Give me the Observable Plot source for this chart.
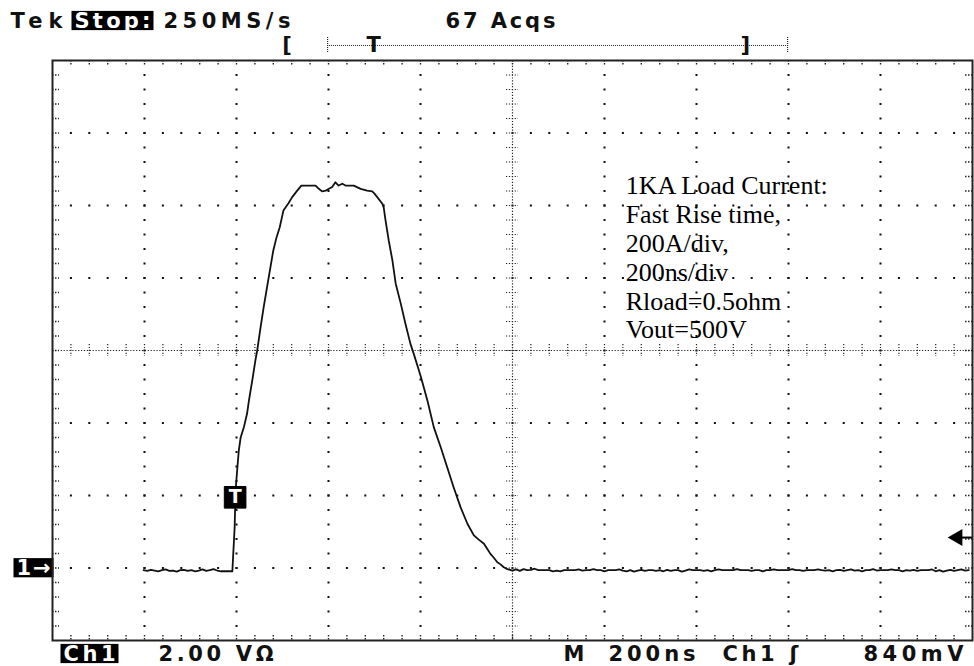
<!DOCTYPE html>
<html>
<head>
<meta charset="utf-8">
<script src="https://cdn.jsdelivr.net/npm/d3@7"></script>
<script src="https://cdn.jsdelivr.net/npm/@observablehq/plot@0.6"></script>
<style>
  html, body { margin: 0; padding: 0; background: #fff; }
  #chart { width: 974px; height: 666px; }
</style>
</head>
<body>
<div id="chart"></div>
<script>
// ---- Scope settings ----
const timePerDivNs = 200;          // 200 ns/div
const ampsPerDiv = 200;            // 200 A/div
const timeDomainNs = [0, 2000];    // 10 divisions
const currentDomainA = [-200, 1400]; // 8 divisions, ground marker at 0 A
const minorPerDiv = 5;
const centerTimeNs = 1000;
const centerCurrentA = 600;

// ---- Waveform (Ch1, load current) ----
const sampleStepNs = 8;
const preTriggerStartNs = 198;
const preTriggerA = [-6, -8, -5, -7, -9, -6, -4, -8, -7, -10, -6, -5, -8, -6, -9, -7, -4, -8, -6, -3, -7, -9, -9, -9];

const pulseTimeNs = [391, 392, 396, 398, 402, 405, 409, 416, 423, 427, 435, 441, 445, 452, 459, 470, 480, 487, 494, 502,
  513, 521, 532, 541, 554, 572, 579, 586, 594, 601, 608, 615, 622, 630, 637, 655, 670, 684, 695, 699,
  706, 717, 720, 724, 731, 739, 746, 757, 767, 778, 785, 800, 815, 829, 844, 858, 872, 887, 902, 916,
  926, 938, 946, 952, 959, 967, 974, 981, 989];
const pulseA = [-9, 16, 113, 214, 278, 324, 360, 388, 426, 462, 523, 572, 600, 661, 719, 802, 876, 912, 940, 986,
  1006, 1023, 1041, 1055, 1055, 1055, 1046, 1039, 1041, 1046, 1051, 1064, 1055, 1060, 1055, 1055, 1046, 1041, 1039, 1034,
  1023, 1005, 995, 959, 903, 848, 785, 730, 675, 619, 592, 531, 462, 388, 333, 278, 223, 168, 122, 90,
  79, 67, 51, 39, 29, 16, 10, 2, -3];

const tailStartNs = 1000;
const tailA = [
  -7, -4, -8, -3, -6, -5, -2, -6, -6, -6,
  -6, -9, -7, -9, -6, -6, -6, -6, -4, -7,
  -6, -6, -3, -6, -6, -9, -6, -6, -6, -4,
  -7, -9, -6, -10, -7, -5, -8, -6, -6, -8,
  -6, -9, -5, -8, -6, -6, -10, -7, -4, -6,
  -6, -6, -8, -6, -9, -6, -4, -6, -6, -6,
  -6, -3, -6, -6, -6, -8, -6, -6, -9, -6,
  -6, -4, -6, -6, -6, -6, -3, -6, -6, -8,
  -6, -6, -6, -4, -6, -7, -6, -9, -6, -5,
  -8, -6, -4, -7, -6, -9, -6, -6, -3, -7,
  -6, -6, -6, -4, -6, -6, -9, -6, -7, -5,
  -8, -6, -6, -6, -4, -9, -6, -10, -7, -5,
  -8, -6, -4, -7, -6];

// ---- Trigger / markers ----
const triggerTimeNs = 397;
const triggerMarkA = 195;
const triggerLevelA = 84;   // 840 mV at 2.00 V/div
const groundA = 0;

const overviewLabels = ["[", "T", "]"];
const overviewTimesNs = [510, 698, 1506];
const overviewBarNs = [598, 1598];

// ---- Text ----
const headerLabels = ["Tek", "Stop:", "250MS/s", "67 Acqs"];
const footerLabels = ["Ch1", "2.00 VΩ", "M", "200ns", "Ch1", "ʃ", "840mV"];
const groundLabel = "1→";
const triggerLabel = "T";
const noteLines = ["1KA Load Current:", "Fast Rise time,", "200A/div,", "200ns/div", "Rload=0.5ohm", "Vout=500V"];
const noteTimeNs = 1246;
const noteCurrentA = 1088;

// ---- Build tables ----
const trace = [
  ...preTriggerA.map((a, k) => ({t: preTriggerStartNs + k * sampleStepNs, a})),
  ...pulseTimeNs.map((t, k) => ({t, a: pulseA[k]})),
  ...tailA.map((a, k) => ({t: tailStartNs + k * sampleStepNs, a}))
];

const majorT = d3.range(timeDomainNs[0] + timePerDivNs, timeDomainNs[1], timePerDivNs);
const minorT = d3.range(timeDomainNs[0], timeDomainNs[1] + 1, timePerDivNs / minorPerDiv);
const majorA = d3.range(currentDomainA[0] + ampsPerDiv, currentDomainA[1], ampsPerDiv);
const minorA = d3.range(currentDomainA[0], currentDomainA[1] + 1, ampsPerDiv / minorPerDiv);
const innerMinorT = minorT.slice(1, -1);
const innerMinorA = minorA.slice(1, -1);
const gridDots = [
  ...majorT.filter(t => t !== centerTimeNs).flatMap(t => innerMinorA.map(a => ({t, a}))),
  ...majorA.filter(a => a !== centerCurrentA).flatMap(a => innerMinorT.map(t => ({t, a})))
];

const scopeFont = "DejaVu Sans";
const scopeSize = 21;
const ink = "#111";

function label(txt, frameAnchor, dx, dy, extra = {}) {
  return Plot.text([txt], {
    text: d => d, frameAnchor, dx, dy,
    textAnchor: "start", lineAnchor: "bottom",
    fontFamily: scopeFont, fontWeight: "bold", fontSize: scopeSize, fill: ink,
    ...extra
  });
}

const svg = Plot.plot({
  width: 974,
  height: 666,
  marginLeft: 52,
  marginRight: 2,
  marginTop: 60,
  marginBottom: 26,
  style: {background: "white", fontFamily: scopeFont},
  x: {domain: timeDomainNs, axis: null},
  y: {domain: currentDomainA, axis: null},
  marks: [
    // graticule dots
    Plot.dot(gridDots, {x: "t", y: "a", symbol: "square", r: 1.15, fill: "#111", stroke: null}),
    // center lines
    Plot.ruleX([centerTimeNs], {stroke: "#222", strokeWidth: 1.2, strokeDasharray: "1.2,1.7"}),
    Plot.ruleY([centerCurrentA], {stroke: "#222", strokeWidth: 1.2, strokeDasharray: "1.2,1.7"}),
    Plot.ruleY(innerMinorA, {x1: () => centerTimeNs, x2: () => centerTimeNs, insetLeft: -6, insetRight: -6, stroke: "#222", strokeWidth: 1.2, strokeDasharray: "1.2,1.7"}),
    Plot.ruleX(innerMinorT, {y1: () => centerCurrentA, y2: () => centerCurrentA, insetTop: -6, insetBottom: -6, stroke: "#222", strokeWidth: 1.2, strokeDasharray: "1.2,1.7"}),
    // border ticks
    Plot.ruleX(innerMinorT, {y1: () => currentDomainA[1], y2: () => currentDomainA[1], insetTop: 0, insetBottom: -5, stroke: "#222", strokeWidth: 1.4, strokeDasharray: "1.5,1.5"}),
    Plot.ruleX(innerMinorT, {y1: () => currentDomainA[0], y2: () => currentDomainA[0], insetTop: -5, insetBottom: 0, stroke: "#222", strokeWidth: 1.4, strokeDasharray: "1.5,1.5"}),
    Plot.ruleY(innerMinorA, {x1: () => timeDomainNs[0], x2: () => timeDomainNs[0], insetLeft: 0, insetRight: -7, stroke: "#222", strokeWidth: 1.4, strokeDasharray: "1.5,1.5"}),
    Plot.ruleY(innerMinorA, {x1: () => timeDomainNs[1], x2: () => timeDomainNs[1], insetLeft: -7, insetRight: 0, stroke: "#222", strokeWidth: 1.4, strokeDasharray: "1.5,1.5"}),
    // waveform
    Plot.line(trace, {x: "t", y: "a", stroke: ink, strokeWidth: 1.8, curve: "linear"}),
    // trigger marker on trace
    Plot.dot([{t: triggerTimeNs, a: triggerMarkA}], {x: "t", y: "a", symbol: "square", r: 12.2, fill: "black", stroke: "black", strokeWidth: 1}),
    Plot.text([{t: triggerTimeNs, a: triggerMarkA}], {x: "t", y: "a", text: () => triggerLabel, fill: "white", fontWeight: "bold", fontSize: 19, fontFamily: scopeFont, lineAnchor: "middle"}),
    // trigger level arrow on right
    Plot.ruleY([triggerLevelA], {x1: () => timeDomainNs[1], x2: () => timeDomainNs[1], insetLeft: -14, stroke: "black", strokeWidth: 2}),
    Plot.dot([triggerLevelA], {x: () => timeDomainNs[1], y: d => d, symbol: "triangle", rotate: -90, r: 6.3, fill: "black", stroke: null, dx: -15}),
    // ground marker
    Plot.text([groundLabel], {frameAnchor: "left", y: () => groundA, text: d => d, dx: -36, textAnchor: "start", lineAnchor: "middle", fill: "white", fontWeight: "bold", fontSize: scopeSize, fontFamily: scopeFont}),
    // annotation
    Plot.text([noteLines.join("\n")], {x: () => noteTimeNs, y: () => noteCurrentA, text: d => d, textAnchor: "start", lineAnchor: "top", fontFamily: "Liberation Serif", fontSize: 26, lineHeight: 1.11, fill: "black"}),
    // record overview bar above the graticule
    Plot.ruleY([currentDomainA[1]], {x1: () => overviewBarNs[0], x2: () => overviewBarNs[1], dy: -15, stroke: "#222", strokeWidth: 1, strokeDasharray: "1,1"}),
    Plot.ruleX(overviewBarNs, {y1: () => currentDomainA[1], y2: () => currentDomainA[1], insetTop: -23, insetBottom: 7, stroke: "#222", strokeWidth: 1.2, strokeDasharray: "1,1"}),
    Plot.text(overviewLabels, {x: (d, i) => overviewTimesNs[i], frameAnchor: "top", dy: -15, text: d => d, lineAnchor: "middle", fontFamily: scopeFont, fontWeight: "bold", fontSize: 21, fill: ink}),
    // header
    label(headerLabels[0], "top-left", -42, -33),
    label(headerLabels[1], "top-left", 22, -33, {fill: "white"}),
    label(headerLabels[2], "top-left", 111, -33),
    label(headerLabels[3], "top-left", 393, -33),
    // footer
    label(footerLabels[0], "bottom-left", 11, 20, {fill: "white"}),
    label(footerLabels[1], "bottom-left", 106, 20),
    label(footerLabels[2], "bottom-left", 511, 20),
    label(footerLabels[3], "bottom-left", 556, 20),
    label(footerLabels[4], "bottom-left", 670, 20),
    label(footerLabels[5], "bottom-left", 737, 20),
    label(footerLabels[6], "bottom-left", 811, 20),
    Plot.frame({stroke: "#222", strokeWidth: 2})
  ]
});

document.getElementById("chart").append(svg);

// stretch scope-font labels to the screen's wide letter pitch
const labelWidths = new Map([
  ["Tek", 52], ["Stop:", 76], ["250MS/s", 127], ["67 Acqs", 110],
  ["Ch1", 52], ["2.00 VΩ", 115], ["200ns", 87], ["840mV", 100], ["1→", 34]
]);
d3.select(svg).selectAll("text").each(function () {
  const w = labelWidths.get(this.textContent);
  if (w) { this.setAttribute("textLength", w); this.setAttribute("lengthAdjust", "spacing"); }
});

// inverse-video boxes behind white (highlighted) labels, except the trigger tag
d3.select(svg).selectAll("text").each(function () {
  const fill = getComputedStyle(this).fill;
  if (this.textContent === triggerLabel) return;
  if (!(fill === "white" || fill === "rgb(255, 255, 255)")) return;
  const bb = this.getBBox();
  const pad = 3;
  const rect = document.createElementNS("http://www.w3.org/2000/svg", "rect");
  rect.setAttribute("x", bb.x - pad);
  rect.setAttribute("y", bb.y + 0.1 * bb.height);
  rect.setAttribute("width", bb.width + 2 * pad);
  rect.setAttribute("height", 0.8 * bb.height);
  rect.setAttribute("fill", "black");
  rect.setAttribute("stroke", "none");
  const tr = this.getAttribute("transform");
  if (tr) rect.setAttribute("transform", tr);
  this.parentNode.insertBefore(rect, this);
});
</script>
</body>
</html>
